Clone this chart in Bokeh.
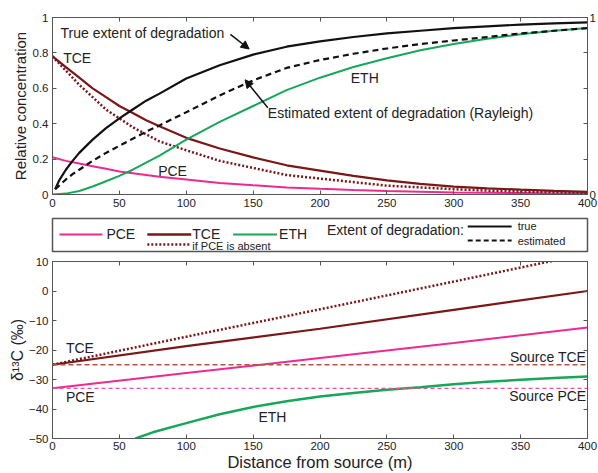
import math
from bokeh.plotting import figure
from bokeh.layouts import column
from bokeh.models import (Range1d, LinearAxis, FixedTicker, CustomJSTickFormatter,
                          Span, Label, Arrow, NormalHead)
from bokeh.core.properties import value
from bokeh.embed import file_html
from bokeh.resources import INLINE

FONT = "Liberation Sans"
AX = "#555555"
TXT = "#222222"
PINK = "#ec2a8f"
DRED = "#7a1717"
GREEN = "#17a65a"
BLACK = "#111111"

# ---------------- data: relative concentration (top panel) ----------------
dist = [0, 10, 20, 30, 40, 50, 60, 70, 80, 100, 125, 150, 175, 200, 225, 250, 275, 300, 325, 350, 375, 400]
pce_rel = [0.21, 0.19, 0.175, 0.16, 0.145, 0.13, 0.12, 0.11, 0.10, 0.085, 0.065, 0.052, 0.04, 0.032,
           0.025, 0.02, 0.016, 0.012, 0.01, 0.008, 0.006, 0.005]
tce_rel = [0.78, 0.72, 0.66, 0.60, 0.55, 0.50, 0.46, 0.42, 0.385, 0.32, 0.26, 0.21, 0.165, 0.135,
           0.105, 0.08, 0.06, 0.045, 0.035, 0.027, 0.02, 0.015]
tce_rel_no_pce = [0.78, 0.70, 0.62, 0.55, 0.48, 0.43, 0.38, 0.34, 0.30, 0.25, 0.19, 0.15, 0.11, 0.09,
                  0.07, 0.05, 0.04, 0.03, 0.022, 0.017, 0.013, 0.01]
eth_rel = [0.0, 0.005, 0.02, 0.045, 0.075, 0.105, 0.14, 0.18, 0.22, 0.31, 0.41, 0.50, 0.59, 0.66,
           0.72, 0.77, 0.815, 0.85, 0.88, 0.905, 0.925, 0.94]
ext_dist = [2, 5, 10, 15, 20, 30, 40, 50, 60, 70, 80, 100, 125, 150, 175, 200, 225, 250, 275, 300,
            325, 350, 375, 400]
ext_true = [0.03, 0.08, 0.14, 0.19, 0.235, 0.31, 0.375, 0.43, 0.48, 0.53, 0.57, 0.655, 0.73, 0.79,
            0.835, 0.865, 0.89, 0.91, 0.925, 0.94, 0.95, 0.96, 0.967, 0.973]
ext_est = [0.03, 0.05, 0.085, 0.115, 0.14, 0.19, 0.235, 0.275, 0.315, 0.355, 0.39, 0.465, 0.56, 0.645,
           0.715, 0.76, 0.795, 0.825, 0.85, 0.87, 0.89, 0.91, 0.925, 0.94]

# ---------------- data: isotope ratios (bottom panel) ----------------
iso_dist = [0, 100, 200, 300, 400]
pce_d13c = [-33, -27.8, -22.7, -17.6, -12.4]
tce_d13c = [-25, -18.7, -12.8, -6.4, 0]
tce_d13c_no_pce = [-25, -15.5, -6.2, 3.2, 12.7]
eth_dist = [62, 75, 100, 125, 150, 175, 200, 225, 250, 275, 300, 325, 350, 375, 400]
eth_d13c = [-50, -47.9, -44.8, -41.8, -39.3, -37.4, -35.8, -34.6, -33.5, -32.6, -31.6, -30.8,
            -30.1, -29.5, -29.0]
source_tce = -25
source_pce = -33

x_ticks = [0, 50, 100, 150, 200, 250, 300, 350, 400]
rel_ticks = [0, 0.2, 0.4, 0.6, 0.8, 1]
iso_ticks = [-50, -40, -30, -20, -10, 0, 10]


def style_axis(ax, labels=True):
    ax.axis_line_color = AX
    ax.axis_line_width = 1
    ax.major_tick_line_color = AX
    ax.major_tick_in = 4
    ax.major_tick_out = 0
    ax.minor_tick_line_color = None
    ax.major_label_text_font = FONT
    ax.major_label_text_font_size = "11.5px"
    ax.major_label_text_color = TXT
    ax.major_label_standoff = 4
    ax.axis_label_text_font = FONT
    ax.axis_label_text_font_style = "normal"
    ax.axis_label_text_color = TXT
    if not labels:
        ax.major_label_text_font_size = "0px"
        ax.major_label_standoff = 0


def base_fig(height, yr, yticks, mb_top, mb_bottom, right_formatter=None):
    p = figure(width=598, height=height, x_range=Range1d(0, 400), y_range=yr,
               output_backend="svg", toolbar_location=None,
               x_axis_location=None, y_axis_location=None,
               min_border_left=52, min_border_right=11,
               min_border_top=mb_top, min_border_bottom=mb_bottom)
    p.xgrid.visible = False
    p.ygrid.visible = False
    p.outline_line_color = AX
    p.background_fill_color = "white"
    p.border_fill_color = "white"
    bottom = LinearAxis(ticker=FixedTicker(ticks=x_ticks))
    style_axis(bottom)
    p.add_layout(bottom, "below")
    left = LinearAxis(ticker=FixedTicker(ticks=yticks))
    style_axis(left)
    p.add_layout(left, "left")
    top = LinearAxis(ticker=FixedTicker(ticks=x_ticks))
    style_axis(top, labels=False)
    p.add_layout(top, "above")
    if right_formatter is not None:
        right = LinearAxis(ticker=FixedTicker(ticks=yticks), formatter=right_formatter)
        style_axis(right)
        right.major_label_standoff = 2
    else:
        right = LinearAxis(ticker=FixedTicker(ticks=yticks))
        style_axis(right, labels=False)
    p.add_layout(right, "right")
    return p, bottom, left


def add_text(p, x, y, txt, size="14px", align="left", baseline="middle"):
    p.text(x=[x], y=[y], text=[txt], text_font=value(FONT), text_font_size=size,
           text_color=TXT, text_align=align, text_baseline=baseline)


# ---------------- top panel ----------------
p1, b1, l1 = base_fig(212, Range1d(0, 1), rel_ticks, 17, 18,
                      right_formatter=CustomJSTickFormatter(
                          code="return (tick == 0 || tick == 1) ? String(tick) : '';"))
l1.formatter = CustomJSTickFormatter(code="return String(tick);")
l1.axis_label = "Relative concentration"
l1.axis_label_text_font_size = "15px"
l1.axis_label_standoff = 1

p1.line(dist, pce_rel, line_color=PINK, line_width=2)
p1.line(dist, tce_rel_no_pce, line_color=DRED, line_width=2.5, line_dash="2 2")
p1.line(dist, tce_rel, line_color=DRED, line_width=2.2)
p1.line(dist, eth_rel, line_color=GREEN, line_width=2)
p1.line(ext_dist, ext_est, line_color=BLACK, line_width=2.2, line_dash="6 4")
p1.line(ext_dist, ext_true, line_color=BLACK, line_width=2.2)

add_text(p1, 6, 0.91, "True extent of degradation")
add_text(p1, 8, 0.77, "TCE")
add_text(p1, 79, 0.13, "PCE")
add_text(p1, 223, 0.66, "ETH")
add_text(p1, 161, 0.458, "Estimated extent of degradation (Rayleigh)")
p1.add_layout(Arrow(end=NormalHead(size=8, fill_color=BLACK, line_color=BLACK),
                    x_start=133, y_start=0.905, x_end=147, y_end=0.822,
                    line_color=BLACK, line_width=1.5))
p1.add_layout(Arrow(end=NormalHead(size=8, fill_color=BLACK, line_color=BLACK),
                    x_start=161, y_start=0.49, x_end=144, y_end=0.648,
                    line_color=BLACK, line_width=1.5))
# right-hand axis title, cut by the page edge as in the original
p1.add_layout(Label(x=588, y=106, x_units="screen", y_units="screen",
                    text="Extent of degradation", angle=math.pi / 2,
                    text_align="center", text_baseline="top", text_font=FONT,
                    text_font_size="15px", text_color=TXT))

# ---------------- legend panel ----------------
p2 = figure(width=598, height=44, x_range=Range1d(52, 588), y_range=Range1d(251, 218),
            output_backend="svg", toolbar_location=None,
            x_axis_location=None, y_axis_location=None,
            min_border_left=52, min_border_right=10, min_border_top=6, min_border_bottom=5)
p2.xgrid.visible = False
p2.ygrid.visible = False
p2.outline_line_color = AX
p2.outline_line_width = 1.5
p2.border_fill_color = "white"

p2.segment(x0=[59], y0=[234], x1=[102], y1=[234], line_color=PINK, line_width=2)
p2.segment(x0=[147], y0=[234], x1=[191], y1=[234], line_color=DRED, line_width=2.5)
p2.segment(x0=[147], y0=[244], x1=[190], y1=[244], line_color=DRED, line_width=2.5, line_dash="2 2")
p2.segment(x0=[233], y0=[234], x1=[277], y1=[234], line_color=GREEN, line_width=2)
p2.segment(x0=[468], y0=[226], x1=[512], y1=[226], line_color=BLACK, line_width=2)
p2.segment(x0=[468], y0=[240], x1=[512], y1=[240], line_color=BLACK, line_width=2, line_dash="5 3")
add_text(p2, 106, 233, "PCE", size="14px")
add_text(p2, 192, 233, "TCE", size="14px")
add_text(p2, 192, 245, "if PCE is absent", size="11px")
add_text(p2, 279, 233, "ETH", size="14px")
add_text(p2, 327, 229, "Extent of degradation:", size="14px")
add_text(p2, 518, 225, "true", size="11px")
add_text(p2, 518, 240, "estimated", size="11px")

# ---------------- bottom panel ----------------
p3, b3, l3 = base_fig(217, Range1d(-50, 10), iso_ticks, 5, 34)
l3.axis_label = "δ¹³C (‰)"
l3.axis_label_text_font_size = "16px"
l3.axis_label_standoff = 0
b3.axis_label = "Distance from source (m)"
b3.axis_label_text_font_size = "16.5px"
b3.axis_label_standoff = 0
b3.major_label_standoff = 3

p3.add_layout(Span(location=source_tce, dimension="width", line_color="#b3573c",
                   line_width=1.5, line_dash="5 3"))
p3.add_layout(Span(location=source_pce, dimension="width", line_color="#f0509f",
                   line_width=1.2, line_dash="4 3"))
p3.line(iso_dist, tce_d13c_no_pce, line_color=DRED, line_width=2.5, line_dash="2 2")
p3.line(iso_dist, tce_d13c, line_color=DRED, line_width=2.2)
p3.line(iso_dist, pce_d13c, line_color=PINK, line_width=2)
p3.line(eth_dist, eth_d13c, line_color=GREEN, line_width=2.5)

add_text(p3, 10, -19.3, "TCE")
add_text(p3, 10, -35.8, "PCE")
add_text(p3, 154, -42.6, "ETH")
add_text(p3, 399, -22.4, "Source TCE", align="right")
add_text(p3, 399, -35.5, "Source PCE", align="right")

layout = column(p1, p2, p3, spacing=0)
open("out.html", "w").write(file_html(layout, INLINE))
